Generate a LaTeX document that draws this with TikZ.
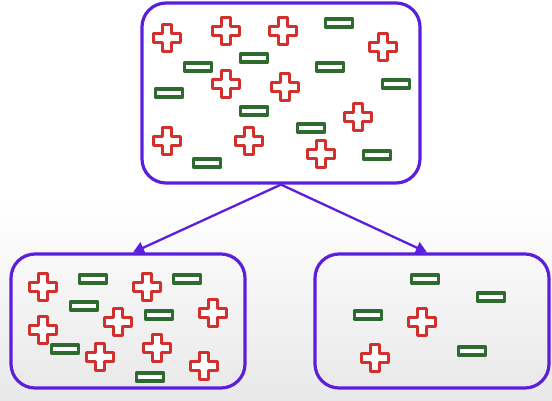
\documentclass[tikz,border=0pt]{standalone}
\usetikzlibrary{arrows.meta}
\definecolor{framepurple}{HTML}{5B1FDC}
\definecolor{posred}{HTML}{D2302C}
\definecolor{neggreen}{HTML}{2F6A2F}
\tikzset{
  box/.style={draw=framepurple, line width=3.2pt, rounded corners=24pt,
    rectangle, inner sep=0pt},
  link/.style={draw=framepurple, line width=2.3pt,
    -{Triangle[length=11pt,width=12pt]}},
  plussign/.pic={
    \draw[posred, line width=3.2pt, fill=white, line join=round]
      (-4.8,-13.5) -- (4.8,-13.5) -- (4.8,-4.8) -- (13.5,-4.8) -- (13.5,4.8)
      -- (4.8,4.8) -- (4.8,13.5) -- (-4.8,13.5) -- (-4.8,4.8) -- (-13.5,4.8)
      -- (-13.5,-4.8) -- (-4.8,-4.8) -- cycle;
  },
  minussign/.pic={
    \draw[neggreen, line width=3.2pt, fill=white, line join=round]
      (-13.5,-4) rectangle (13.5,4);
  }
}
\begin{document}
\begin{tikzpicture}[x=1pt, y=-1pt]
  % paper
  \shade[top color=white, bottom color=black!9, middle color=white]
    (0,0) rectangle (552,401);
  \useasboundingbox (0,0) rectangle (552,401);

  % containers
  \node[box, minimum width=278pt, minimum height=180pt] (top) at (281,93) {};
  \node[box, minimum width=234pt, minimum height=134pt] (left) at (128,321) {};
  \node[box, minimum width=234pt, minimum height=134pt] (right) at (432,321) {};

  % split arrows
  \draw[link] (top.south) -- ([xshift=5pt]left.north);
  \draw[link] (top.south) -- ([xshift=-5pt]right.north);

  % charges in the upper container
  \foreach \x/\y in {167/38, 226/31, 283/31, 383/47, 226/84, 285/87,
                     358/117, 167/141, 249/141, 321/154}
    \pic at (\x,\y) {plussign};
  \foreach \x/\y in {339/23, 254/58, 198/67, 330/67, 169/93, 396/84,
                     254/111, 311/128, 207/163, 377/155}
    \pic at (\x,\y) {minussign};

  % charges in the lower left container
  \foreach \x/\y in {43/287, 147/287, 213/313, 118/322, 43/330,
                     157/348, 100/357, 204/366}
    \pic at (\x,\y) {plussign};
  \foreach \x/\y in {93/279, 187/279, 84/306, 159/315, 65/349, 150/377}
    \pic at (\x,\y) {minussign};

  % charges in the lower right container
  \foreach \x/\y in {422/322, 375/358}
    \pic at (\x,\y) {plussign};
  \foreach \x/\y in {425/279, 491/297, 368/315, 472/351}
    \pic at (\x,\y) {minussign};
\end{tikzpicture}
\end{document}
